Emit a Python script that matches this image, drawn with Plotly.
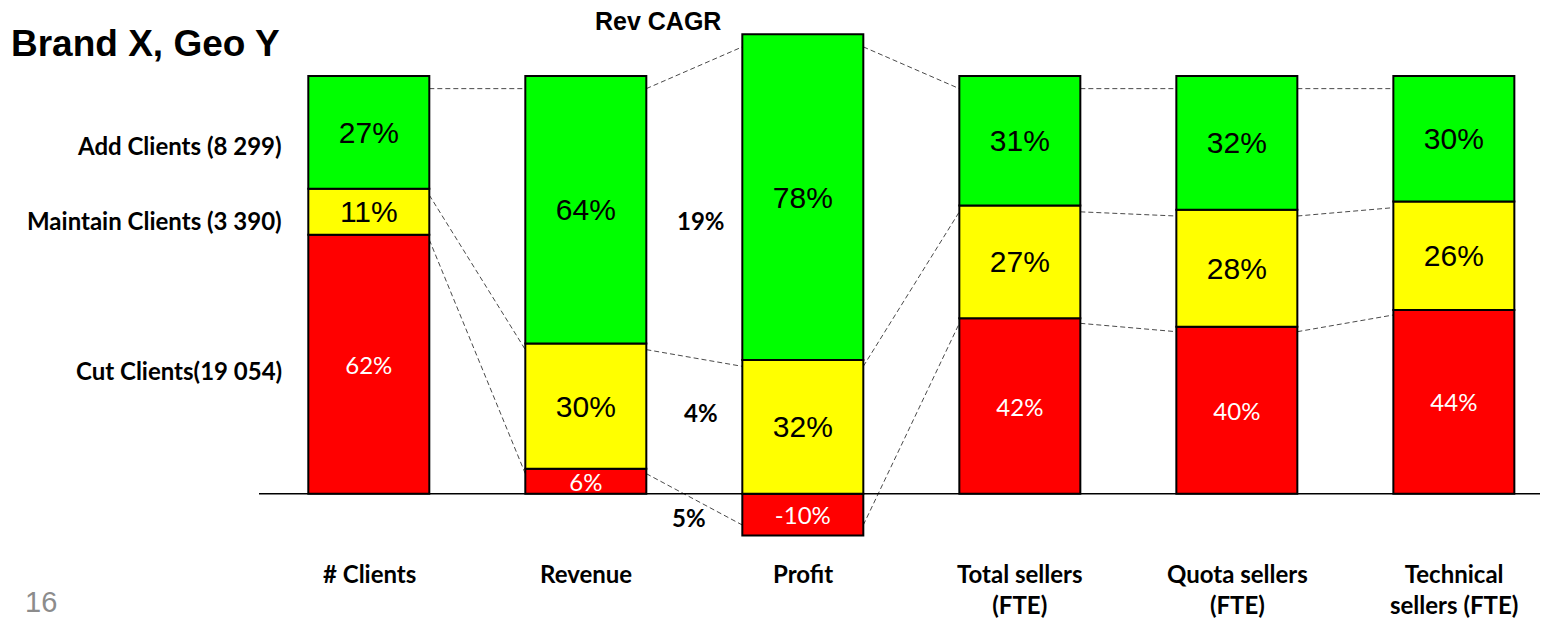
import plotly.graph_objects as go

# ---- data ----
categories = ["# Clients", "Revenue", "Profit", "Total sellers<br>(FTE)", "Quota sellers<br>(FTE)", "Technical<br>sellers (FTE)"]
cut_pct = [62, 6, -10, 42, 40, 44]
maintain_pct = [11, 30, 32, 27, 28, 26]
add_pct = [27, 64, 78, 31, 32, 30]
segment_labels = ["Add Clients (8 299)", "Maintain Clients (3 390)", "Cut Clients(19 054)"]
cagr_labels = ["19%", "4%", "5%"]
title_text = "Brand X, Geo Y"
cagr_title = "Rev CAGR"
page_number = "16"

# ---- layout constants ----
W, H = 1550, 618
ML = 259
MR = W - 1540
MT = 26
MB = H - 548
XR = [-0.506, 5.397]
YR = [-13, 112]
BAR_W = 0.5576
GREEN, YELLOW, RED = "#00FF00", "#FFFF00", "#FF0000"
LBL_FONT = "Lato"
ARIAL = "Liberation Sans"

xs = list(range(len(categories)))

fig = go.Figure()

def seg_trace(vals, color, txtcolor, size, family, name):
    return go.Bar(
        x=xs, y=vals, width=BAR_W, name=name,
        marker=dict(color=color, line=dict(color="black", width=2)),
        text=[f"{v}%" for v in vals],
        textposition="inside", insidetextanchor="middle",
        textfont=dict(family=family, size=size, color=txtcolor),
        constraintext="none", hoverinfo="skip", showlegend=False,
    )

fig.add_trace(seg_trace(cut_pct, RED, "white", 24, LBL_FONT, "Cut"))
fig.add_trace(seg_trace(maintain_pct, YELLOW, "black", 30, ARIAL, "Maintain"))
fig.add_trace(seg_trace(add_pct, GREEN, "black", 30, ARIAL, "Add"))

# ---- connector lines between adjacent bars ----
def levels(i):
    base = max(cut_pct[i], 0)
    red_lvl = cut_pct[i]
    yel_lvl = base + maintain_pct[i]
    top_lvl = yel_lvl + add_pct[i]
    return [top_lvl - 3, yel_lvl - 1.5, red_lvl + (2.5 if red_lvl < 0 else -1.2)]

shapes = []
for i in range(len(xs) - 1):
    la, lb = levels(i), levels(i + 1)
    for k in range(3):
        shapes.append(dict(
            type="line", xref="x", yref="y",
            x0=xs[i] + BAR_W / 2, x1=xs[i + 1] - BAR_W / 2,
            y0=la[k], y1=lb[k],
            line=dict(color="#4a4a4a", width=1, dash="5px,3px"),
            layer="below",
        ))
# baseline
shapes.append(dict(type="line", xref="paper", yref="y", x0=0, x1=1, y0=0, y1=0,
                   line=dict(color="black", width=1.5)))

# ---- annotations (positions given in page pixels) ----
PW = W - ML - MR
PH = H - MT - MB

def px_(x):
    return (x - ML) / PW

def py_(y):
    return (H - MB - y) / PH

def txt(text, x, y, size, family, xanchor="center", yanchor="middle", color="black", bold=True, align="center"):
    return dict(x=px_(x), y=py_(y), xref="paper", yref="paper", text=text, showarrow=False,
                xanchor=xanchor, yanchor=yanchor, align=align,
                font=dict(family=family, size=size, color=color, weight="bold" if bold else "normal"))

ann = []
seg_y = [145, 220, 370]
for t, y in zip(segment_labels, seg_y):
    ann.append(txt(t, 284, y, 24, LBL_FONT, xanchor="right"))

cagr_pos = [(701, 220), (701, 412), (689, 517)]
for t, (x, y) in zip(cagr_labels, cagr_pos):
    ann.append(txt(t, x, y, 24, LBL_FONT))

ann.append(txt(cagr_title, 658, 21, 25, ARIAL))
ann.append(txt(title_text, 9, 43, 37, ARIAL, xanchor="left"))
ann.append(txt(page_number, 23, 602, 29, ARIAL, xanchor="left", color="#8c8c8c", bold=False))

cat_x = [369 + 217 * i for i in xs]
for x, c in zip(cat_x, categories):
    ann.append(txt(c, x, 557, 24, LBL_FONT, yanchor="top"))

fig.update_layout(
    width=W, height=H,
    margin=dict(l=ML, r=MR, t=MT, b=MB, pad=0),
    barmode="relative",
    plot_bgcolor="white", paper_bgcolor="white",
    xaxis=dict(range=XR, visible=False, fixedrange=True),
    yaxis=dict(range=YR, visible=False, fixedrange=True),
    shapes=shapes, annotations=ann,
    showlegend=False,
)

fig.write_html("out.html", config={"displayModeBar": False},
               post_script="document.body.style.margin='0';document.body.style.overflow='hidden';")
